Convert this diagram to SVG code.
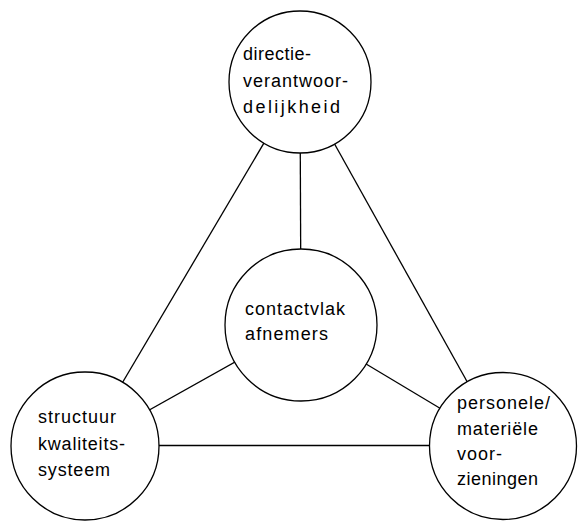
<svg xmlns="http://www.w3.org/2000/svg" width="578" height="521" viewBox="0 0 578 521">
<style>
.c{fill:#fff;stroke:#000;stroke-width:1.3}
.l{stroke:#000;stroke-width:1.3;fill:none}
text{font-family:"Liberation Sans",Arial,sans-serif;font-size:18px;fill:#000}
</style>
<rect width="578" height="521" fill="#fff"/>
<g id="connectors">
<line class="l" x1="300" y1="82" x2="85" y2="446"/>
<line class="l" x1="300" y1="82" x2="503" y2="446"/>
<line class="l" x1="300" y1="82" x2="301" y2="325"/>
<line class="l" x1="301" y1="325" x2="85" y2="446"/>
<line class="l" x1="301" y1="325" x2="503" y2="446"/>
<line class="l" x1="85" y1="445.5" x2="503" y2="445.5"/>
</g>
<g id="directie">
<circle class="c" cx="300" cy="82" r="71"/>
<text x="243" y="60" textLength="68" lengthAdjust="spacing">directie-</text>
<text x="243" y="87" textLength="105" lengthAdjust="spacing">verantwoor-</text>
<text x="243" y="113" textLength="97" lengthAdjust="spacing">delijkheid</text>
</g>
<g id="contactvlak">
<circle class="c" cx="301" cy="325" r="76"/>
<text x="245" y="315" textLength="100" lengthAdjust="spacing">contactvlak</text>
<text x="245" y="340" textLength="83" lengthAdjust="spacing">afnemers</text>
</g>
<g id="structuur">
<circle class="c" cx="85" cy="446" r="74"/>
<text x="38" y="423" textLength="78" lengthAdjust="spacing">structuur</text>
<text x="38" y="450" textLength="87" lengthAdjust="spacing">kwaliteits-</text>
<text x="38" y="476" textLength="72" lengthAdjust="spacing">systeem</text>
</g>
<g id="personele">
<circle class="c" cx="503" cy="446" r="73.5"/>
<text x="457" y="409" textLength="93" lengthAdjust="spacing">personele/</text>
<text x="457" y="435" textLength="81" lengthAdjust="spacing">materiële</text>
<text x="457" y="460" textLength="45" lengthAdjust="spacing">voor-</text>
<text x="457" y="485" textLength="81" lengthAdjust="spacing">zieningen</text>
</g>
</svg>
